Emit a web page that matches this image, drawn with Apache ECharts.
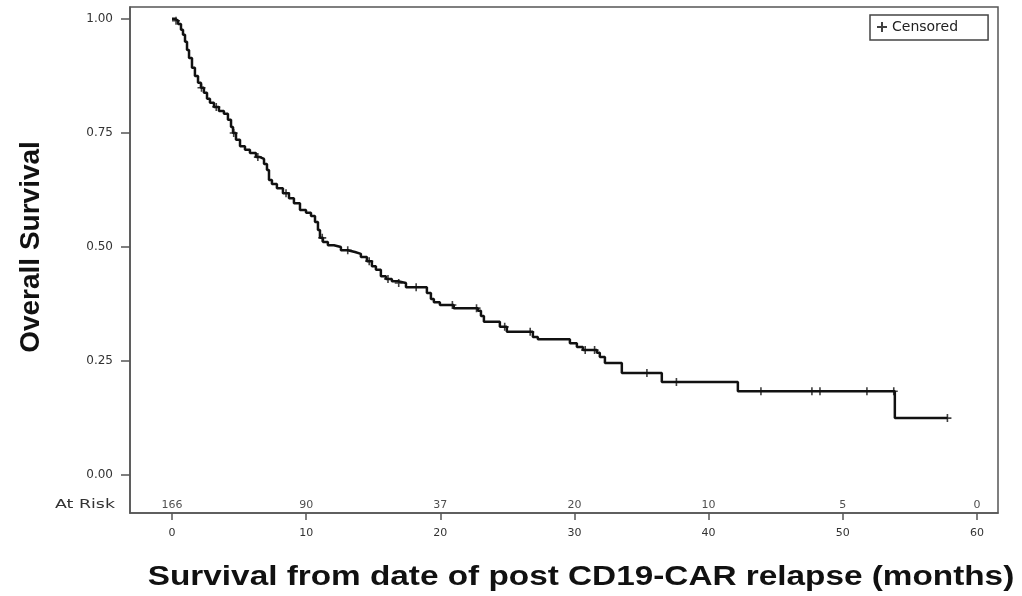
<!DOCTYPE html>
<html>
<head>
<meta charset="utf-8">
<script src="https://cdn.jsdelivr.net/npm/echarts@6/dist/echarts.min.js"></script>
<style>html,body{margin:0;padding:0;background:#fff}#c{width:1022px;height:596px}</style>
</head>
<body>
<div id="c"></div>
<script>
// Kaplan-Meier steps: [time (months), survival after the drop]
const kmSteps = [
  [0,1.0],[0.22,0.996],[0.45,0.989],[0.67,0.976],[0.82,0.965],[0.97,0.950],[1.12,0.932],[1.27,0.914],
  [1.49,0.893],[1.71,0.875],[1.94,0.860],[2.16,0.849],[2.38,0.838],[2.61,0.825],[2.83,0.816],[3.13,0.807],
  [3.50,0.798],[3.87,0.792],[4.17,0.779],[4.40,0.763],[4.55,0.750],[4.77,0.735],[5.07,0.721],[5.44,0.713],
  [5.81,0.706],[6.26,0.697],[6.56,0.693],[6.86,0.682],[7.08,0.669],[7.23,0.647],[7.45,0.638],[7.82,0.629],
  [8.27,0.618],[8.72,0.607],[9.09,0.596],[9.54,0.581],[9.99,0.575],[10.36,0.568],[10.66,0.555],[10.88,0.537],
  [11.03,0.520],[11.25,0.511],[11.62,0.504],[12.07,0.500],[12.59,0.493],[13.11,0.489],[13.64,0.485],[14.08,0.478],
  [14.53,0.469],[14.90,0.458],[15.20,0.450],[15.57,0.436],[15.95,0.430],[16.39,0.425],[16.84,0.421],[17.44,0.412],
  [19.00,0.399],[19.30,0.386],[19.52,0.379],[19.97,0.373],[21.00,0.366],[22.80,0.360],[23.03,0.349],[23.25,0.336],
  [24.44,0.325],[24.96,0.314],[26.90,0.303],[27.27,0.298],[29.66,0.289],[30.18,0.281],[30.63,0.274],[31.67,0.268],
  [31.89,0.259],[32.27,0.246],[33.53,0.224],[36.51,0.204],[42.18,0.184],[53.88,0.125],[57.82,0.125]
];
// Censored observations: [time, survival]
const censored = [
  [0.3,0.996],[2.2,0.849],[3.3,0.807],[4.6,0.750],[6.4,0.697],[8.5,0.618],
  [11.2,0.520],[13.1,0.493],[14.7,0.469],[16.1,0.430],[16.9,0.421],[18.2,0.412],
  [20.9,0.373],[22.7,0.366],[24.8,0.325],[26.7,0.314],[30.8,0.274],[31.5,0.274],
  [35.4,0.224],[37.6,0.204],[43.9,0.184],[47.7,0.184],[48.3,0.184],[51.8,0.184],
  [53.8,0.184],[57.8,0.125]
];
const xTicks = [0,10,20,30,40,50,60];
const yTicks = [0,0.25,0.5,0.75,1.0];
const atRisk = ['166','90','37','20','10','5','0'];
const atRiskLabel = 'At Risk';
const xTitle = 'Survival from date of post CD19-CAR relapse (months)';
const yTitle = 'Overall Survival';

const AT_RISK_Y = -0.066;
const plusPath = 'path://M4,0h2v4h4v2h-4v4h-2v-4h-4v-2h4z';
const tickFont = '"DejaVu Sans", "Liberation Sans", Arial, sans-serif';

const chart = echarts.init(document.getElementById('c'), null, {renderer:'canvas'});
chart.setOption({
  animation: false,
  backgroundColor: '#fff',
  grid: {left:130, right:24, top:7, bottom:83, show:true, borderColor:'#555', borderWidth:1.5, backgroundColor:'transparent'},
  legend: {
    data: ['Censored'], left: 870, top: 15, orient:'horizontal',
    icon: plusPath, itemWidth: 10, itemHeight: 10, itemGap: 16,
    borderColor:'#444', borderWidth:1.5, padding:[5,30,6,7],
    textStyle:{fontFamily:tickFont, fontSize:14, color:'#222'}
  },
  xAxis: {
    type:'value', min:-3.13, max:61.57,
    axisLine:{show:true, onZero:false, lineStyle:{color:'#555', width:1.5}},
    axisTick:{show:true, customValues:xTicks, length:7, lineStyle:{color:'#555', width:1.5}},
    axisLabel:{customValues:xTicks, margin:15, color:'#333', fontSize:11, fontFamily:tickFont},
    splitLine:{show:false}
  },
  yAxis: {
    type:'value', min:-0.083, max:1.026,
    axisLine:{show:true, onZero:false, lineStyle:{color:'#555', width:1.5}},
    axisTick:{show:true, customValues:yTicks, length:9, lineStyle:{color:'#555', width:1.5}},
    axisLabel:{customValues:yTicks, margin:17, color:'#333', fontSize:12, fontFamily:tickFont,
      formatter:(v)=>v.toFixed(2)},
    splitLine:{show:false}
  },
  graphic: [
    {type:'text', x:31, y:247, rotation:Math.PI/2,
     style:{text:yTitle, font:'bold 28px "Liberation Sans", Arial, sans-serif', fill:'#111', align:'center', verticalAlign:'middle'}},
    {type:'text', x:581, y:577, scaleX:1.19,
     style:{text:xTitle, font:'bold 28px "Liberation Sans", Arial, sans-serif', fill:'#111', align:'center', verticalAlign:'middle'}},
    {type:'text', x:115, y:505, scaleX:1.45,
     style:{text:atRiskLabel, font:'12px "DejaVu Sans", Arial, sans-serif', fill:'#333', align:'right', verticalAlign:'middle'}}
  ],
  series: [
    {name:'Survival', type:'line', step:'end', data:kmSteps, showSymbol:false, symbol:'none',
     lineStyle:{color:'#111', width:2.5}, z:3},
    {name:'Censored', type:'scatter', data:censored, symbol:plusPath, symbolSize:8,
     itemStyle:{color:'#111'}, z:4},
    {name:'AtRisk', type:'scatter', symbol:'circle', symbolSize:1,
     itemStyle:{color:'rgba(0,0,0,0)'},
     data: xTicks.map((t,i)=>[t, AT_RISK_Y, atRisk[i]]),
     label:{show:true, position:'inside', formatter:(p)=>p.data[2], color:'#222', fontSize:11,
       fontFamily:tickFont}, z:5, silent:true}
  ]
});
</script>
</body>
</html>
